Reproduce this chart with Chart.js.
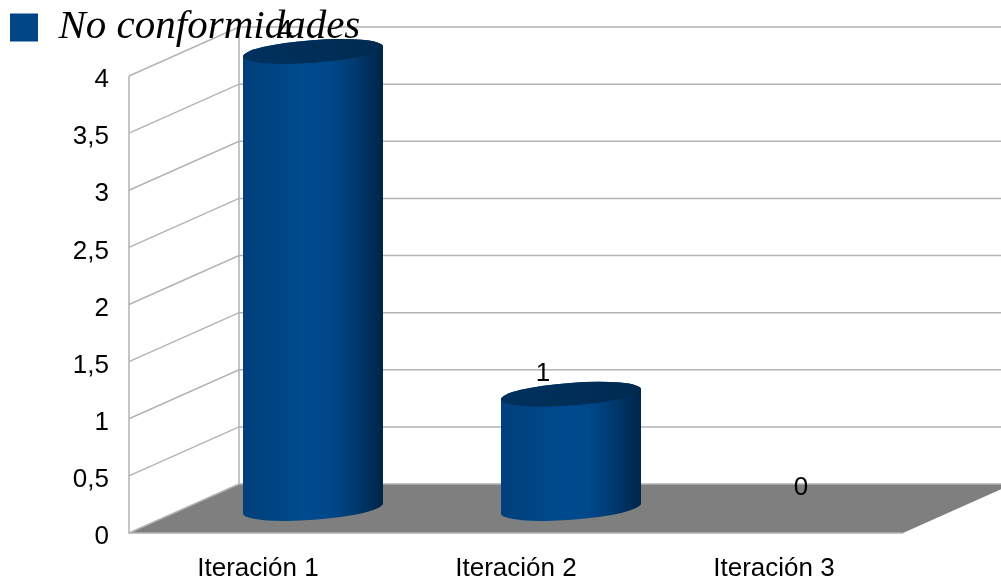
<!DOCTYPE html>
<html>
<head>
<meta charset="utf-8">
<style>
    html, body { margin: 0; padding: 0; background: #fff; overflow: hidden; }
    canvas { display: block; }
</style>
<script src="https://cdn.jsdelivr.net/npm/chart.js@4"></script>
</head>
<body>
<canvas id="chart" width="1001" height="582"></canvas>
<script>
const categories = ['Iteración 1', 'Iteración 2', 'Iteración 3'];
const noConformidades = [4, 1, 0];
const tickLabels = ['0', '0,5', '1', '1,5', '2', '2,5', '3', '3,5', '4'];
const seriesName = 'No conformidades';

// 3D look: how far the back wall sits from the front plane
const depthX = 110;
const depthY = -49;
const lineColor = '#b3b3b3';
const floorColor = '#7f7f7f';
const labelFont = '26px "Liberation Sans"';

// floor, side wall and back wall, drawn from the library's scales
const wallsPlugin = {
    id: 'walls',
    beforeDraw(chart) {
        const { ctx, scales: { x, y } } = chart;
        const y0 = y.getPixelForValue(0);
        const yTop = y.getPixelForValue(4);
        ctx.save();
        ctx.fillStyle = floorColor;
        ctx.beginPath();
        ctx.moveTo(x.left, y0);
        ctx.lineTo(x.left + depthX, y0 + depthY);
        ctx.lineTo(x.right + depthX, y0 + depthY);
        ctx.lineTo(x.right, y0);
        ctx.closePath();
        ctx.fill();

        ctx.strokeStyle = lineColor;
        ctx.lineWidth = 1.5;
        y.ticks.forEach(t => {
            const py = y.getPixelForValue(t.value);
            ctx.beginPath();
            ctx.moveTo(x.left, py);
            ctx.lineTo(x.left + depthX, py + depthY);
            ctx.lineTo(x.right + depthX, py + depthY);
            ctx.stroke();
        });
        ctx.beginPath();
        ctx.moveTo(x.left, yTop);
        ctx.lineTo(x.left, y0);
        ctx.lineTo(x.right, y0);
        ctx.moveTo(x.left + depthX, yTop + depthY);
        ctx.lineTo(x.left + depthX, y0 + depthY);
        ctx.stroke();
        ctx.restore();
    }
};

// the bars keep their scale positions but are painted as tilted cylinders
const tilt = -4.2 * Math.PI / 180;
const capRadiusY = 11.4;
const capRadiusX = 70.2;
const edgeDrop = 5;

const cylinderPlugin = {
    id: 'cylinders',
    beforeDatasetDraw(chart, args) {
        const { ctx } = chart;
        const meta = chart.getDatasetMeta(args.index);
        meta.data.forEach((bar, i) => {
            if (!noConformidades[i]) return;
            const half = bar.width / 2;
            const cx = bar.x + depthX / 2;
            const top = bar.y + depthY / 2;
            const base = bar.base + depthY / 2;

            const side = ctx.createLinearGradient(cx - half, 0, cx + half, 0);
            side.addColorStop(0, '#00407c');
            side.addColorStop(0.12, '#00427f');
            side.addColorStop(0.45, '#004a8f');
            side.addColorStop(0.62, '#00488b');
            side.addColorStop(0.8, '#003a70');
            side.addColorStop(1, '#002448');

            ctx.save();
            ctx.fillStyle = side;
            ctx.beginPath();
            ctx.moveTo(cx - half, top + edgeDrop);
            ctx.lineTo(cx - half, base + edgeDrop);
            ctx.ellipse(cx, base, capRadiusX, capRadiusY, tilt, Math.PI, 0, true);
            ctx.lineTo(cx + half, top - edgeDrop);
            ctx.ellipse(cx, top, capRadiusX, capRadiusY, tilt, 0, Math.PI, true);
            ctx.closePath();
            ctx.fill();

            const cap = ctx.createLinearGradient(cx - half, 0, cx + half, 0);
            cap.addColorStop(0, '#00305c');
            cap.addColorStop(0.6, '#002e58');
            cap.addColorStop(1, '#00294e');
            ctx.fillStyle = cap;
            ctx.beginPath();
            ctx.ellipse(cx, top, capRadiusX, capRadiusY, tilt, 0, Math.PI * 2);
            ctx.fill();
            ctx.restore();
        });
        return false;
    },
    afterDatasetsDraw(chart) {
        const { ctx } = chart;
        const meta = chart.getDatasetMeta(0);
        ctx.save();
        ctx.font = labelFont;
        ctx.fillStyle = '#000';
        ctx.textAlign = 'center';
        ctx.textBaseline = 'middle';
        meta.data.forEach((bar, i) => {
            ctx.fillText(String(noConformidades[i]), bar.x + 27, bar.y - 45);
        });
        ctx.restore();
    }
};

// the legend sits higher than the space reserved for it in the layout
const legendPlacePlugin = {
    id: 'legendPlace',
    afterLayout(chart) {
        chart.legend.top = -3;
        chart.legend.bottom = -3 + chart.legend.height;
    }
};

new Chart(document.getElementById('chart'), {
    type: 'bar',
    data: {
        labels: categories,
        datasets: [{
            label: seriesName,
            data: noConformidades,
            backgroundColor: '#004586',
            borderWidth: 0,
            barThickness: 140
        }]
    },
    options: {
        responsive: false,
        animation: false,
        layout: { padding: { top: 15, left: 0, right: 98, bottom: 0 } },
        scales: {
            x: {
                grid: { display: false, drawTicks: false },
                border: { display: false },
                ticks: { color: '#000', font: { family: 'Liberation Sans', size: 26 }, padding: 20, maxRotation: 0 },
                afterFit(scale) { scale.height = 49; }
            },
            y: {
                min: 0,
                max: 4,
                grid: { display: false, drawTicks: false },
                border: { display: false },
                ticks: {
                    stepSize: 0.5,
                    color: '#000',
                    font: { family: 'Liberation Sans', size: 26 },
                    padding: 20,
                    labelOffset: 4,
                    callback: (value, index) => tickLabels[index]
                },
                afterFit(scale) { scale.width = 129; }
            }
        },
        plugins: {
            legend: {
                position: 'top',
                align: 'start',
                labels: {
                    boxWidth: 28,
                    boxHeight: 28,
                    padding: 10,
                    color: '#000',
                    font: { family: 'Liberation Serif', style: 'italic', size: 41, lineHeight: 0.7 }
                }
            },
            tooltip: { enabled: false }
        }
    },
    plugins: [wallsPlugin, cylinderPlugin, legendPlacePlugin]
});
</script>
</body>
</html>
